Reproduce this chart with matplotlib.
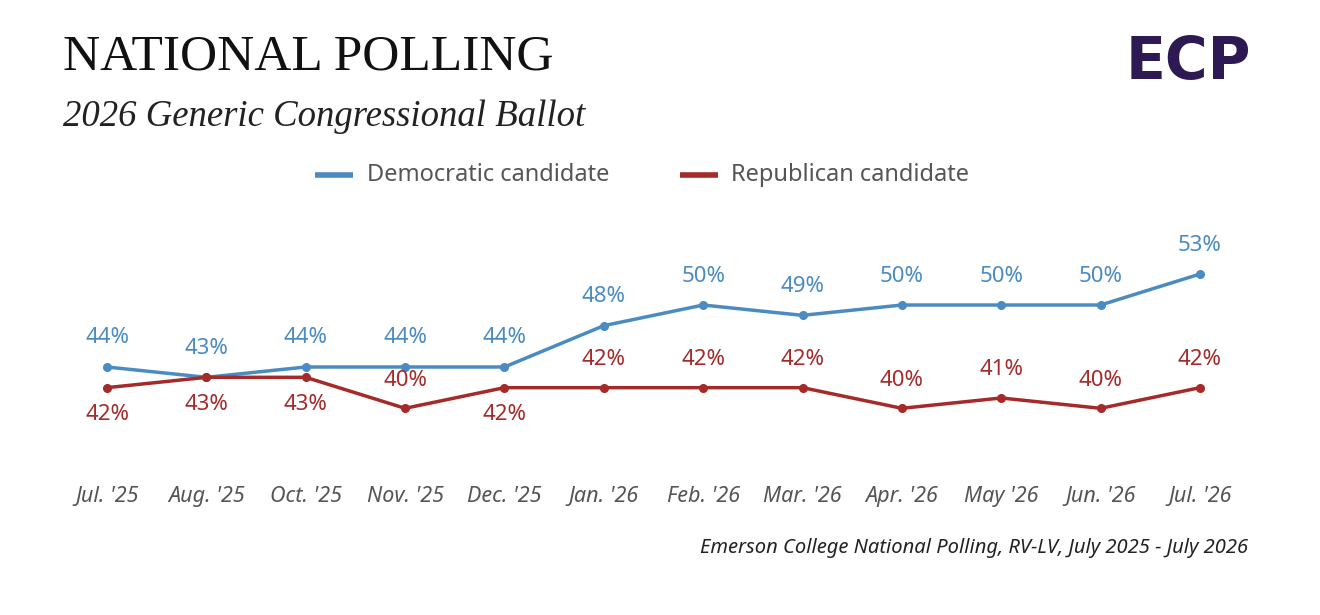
import matplotlib
matplotlib.use("Agg")
import matplotlib.pyplot as plt

months = ["Jul. '25", "Aug. '25", "Oct. '25", "Nov. '25", "Dec. '25", "Jan. '26",
          "Feb. '26", "Mar. '26", "Apr. '26", "May '26", "Jun. '26", "Jul. '26"]
dem = [44, 43, 44, 44, 44, 48, 50, 49, 50, 50, 50, 53]
rep = [42, 43, 43, 40, 42, 42, 42, 42, 40, 41, 40, 42]
rep_label_above = [False, False, False, True, False, True, True, True, True, True, True, True]

blue = "#4a8bc2"
red = "#a52a2a"
W, H = 1320, 615
sans = "Noto Sans"

fig = plt.figure(figsize=(13.2, 6.15), dpi=100)
ax = fig.add_axes([0, 0, 1, 1])
ax.set_xlim(-1.077, 12.208)
ax.set_ylim(19.99, 79.53)
ax.axis("off")

x = list(range(len(months)))
ax.plot(x, dem, color=blue, lw=2.5, marker="o", ms=5.5, zorder=3)
ax.plot(x, rep, color=red, lw=2.5, marker="o", ms=5.5, zorder=3)

lab = dict(fontsize=16, family=sans, ha="center", va="center")
for i in x:
    ax.annotate(f"{dem[i]}%", (i, dem[i]), xytext=(0, 29), textcoords="offset pixels",
                color=blue, **lab)
    off = 28 if rep_label_above[i] else -27
    ax.annotate(f"{rep[i]}%", (i, rep[i]), xytext=(0, off), textcoords="offset pixels",
                color=red, **lab)
    ax.text(i, 20 + (615 - 497) / 10.33, months[i], color="#555555", fontsize=15.5,
            family=sans, style="italic", ha="center", va="center")

fig.text(63 / W, 1 - 57 / H, "NATIONAL POLLING", family="Liberation Serif",
         fontsize=37, color="#111111", va="center")
fig.text(63 / W, 1 - 117 / H, "2026 Generic Congressional Ballot", family="Liberation Serif",
         style="italic", fontsize=26.5, color="#222222", va="center")
fig.text(1248 / W, 1 - 548 / H, "Emerson College National Polling, RV-LV, July 2025 - July 2026",
         family=sans, style="italic", fontsize=14.5, color="#222222", ha="right", va="center")
fig.text(1126 / W, 1 - 62 / H, "ECP", family="DejaVu Sans", weight="bold", fontsize=42,
         color="#2d1a52", va="center")

# legend
ax.plot([315 / W * 13.285 - 1.077, 353 / W * 13.285 - 1.077], [79.53 - 175 / 10.33] * 2,
        color=blue, lw=4, solid_capstyle="butt")
ax.plot([680 / W * 13.285 - 1.077, 718 / W * 13.285 - 1.077], [79.53 - 175 / 10.33] * 2,
        color=red, lw=4, solid_capstyle="butt")
fig.text(367 / W, 1 - 175 / H, "Democratic candidate", family=sans, fontsize=17,
         color="#555555", va="center")
fig.text(731 / W, 1 - 175 / H, "Republican candidate", family=sans, fontsize=17,
         color="#555555", va="center")

fig.savefig("out.png", dpi=100)
